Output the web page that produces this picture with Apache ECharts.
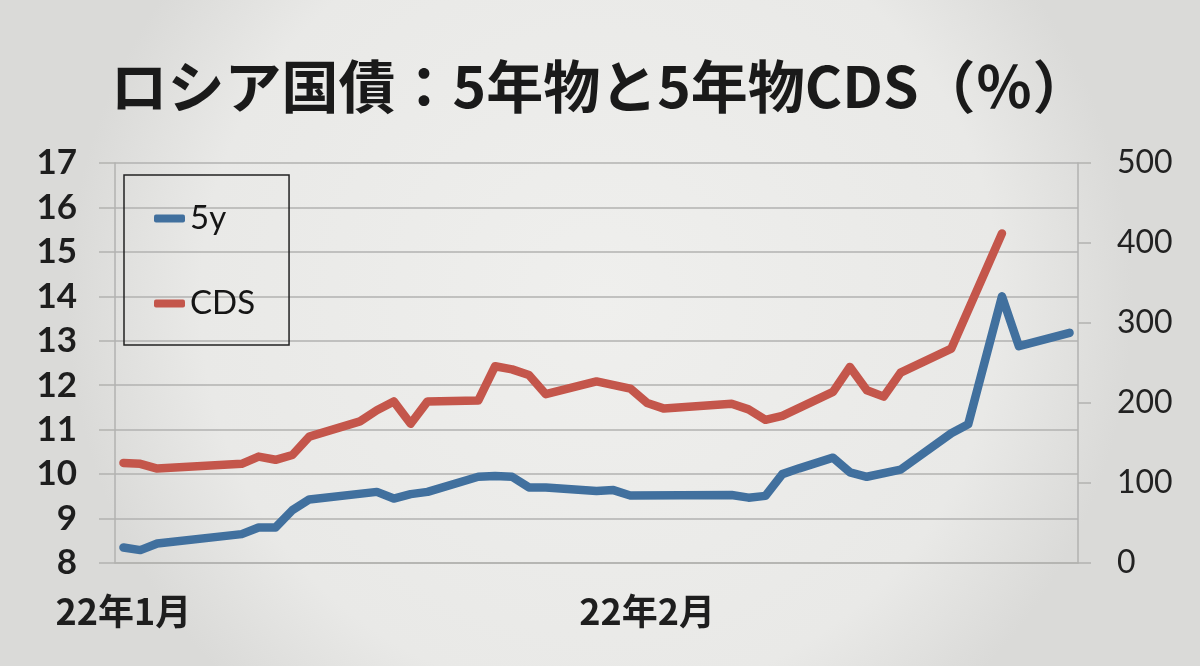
<!DOCTYPE html>
<html>
<head>
<meta charset="utf-8">
<script src="https://cdn.jsdelivr.net/npm/echarts@6/dist/echarts.min.js"></script>
<style>
html,body{margin:0;padding:0;width:1200px;height:666px;overflow:hidden;}
#chart{width:1200px;height:666px;}
</style>
</head>
<body>
<div id="chart"></div>
<script>
const titleText = 'ロシア国債：5年物と5年物CDS（％）';
const days = ['1/1','1/2','1/3','1/4','1/5','1/6','1/7','1/8','1/9','1/10','1/11','1/12','1/13','1/14','1/15','1/16','1/17','1/18','1/19','1/20','1/21','1/22','1/23','1/24','1/25','1/26','1/27','1/28','1/29','1/30','1/31',
  '2/1','2/2','2/3','2/4','2/5','2/6','2/7','2/8','2/9','2/10','2/11','2/12','2/13','2/14','2/15','2/16','2/17','2/18','2/19','2/20','2/21','2/22','2/23','2/24','2/25','2/26'];
const monthLabels = {'1/1':'22年1月','2/1':'22年2月'};
const seriesNames = ['5y','CDS'];
const yield5y = [8.35,8.29,8.44,null,null,null,null,8.65,8.80,8.80,9.19,9.43,null,null,null,9.60,9.45,9.55,9.60,null,null,9.94,9.96,9.94,9.70,9.70,null,null,9.62,9.64,9.52,
  null,null,null,null,null,9.53,9.47,9.51,10.00,10.13,null,10.37,10.04,9.94,null,10.10,null,null,10.92,11.12,null,14.00,12.88,null,null,13.18];
const cds5y = [125,124,118,null,null,null,null,124,133,129,135,158,null,null,177,191,202,174,202,null,null,203,246,242,235,211,null,null,227,null,218,
  200,193,null,null,null,199,192,179,184,null,null,214,245,216,208,238,null,null,268,null,null,412,null,null,null,null];
const leftTicks = {min:8, max:17, interval:1};
const rightTicks = {min:0, max:500, interval:100};

const chart = echarts.init(document.getElementById('chart'));
const gridColor = '#b2b2b0';
const isMonth = (i, v) => Object.prototype.hasOwnProperty.call(monthLabels, v);
chart.setOption({
  backgroundColor: {
    type: 'radial', x: 0.5, y: 0.45, r: 0.8,
    colorStops: [{offset:0, color:'#efefed'},{offset:0.75, color:'#e9e9e7'},{offset:1, color:'#dadad8'}]
  },
  animation: false,
  title: {
    text: titleText, left: 'center', top: 53,
    textStyle: {fontFamily: 'Noto Sans CJK JP', fontWeight: 'bold', fontSize: 57, color: '#1a1a1a'}
  },
  legend: {
    data: seriesNames, orient: 'vertical', left: 124, top: 175,
    padding: [27, 34, 25, 30], itemGap: 52,
    borderColor: '#222', borderWidth: 1.5,
    icon: 'roundRect', itemWidth: 31, itemHeight: 8,
    textStyle: {fontFamily: 'Lato', fontSize: 33, color: '#151515'}
  },
  grid: {left: 115, right: 122, top: 163, bottom: 103, outerBoundsMode: 'none'},
  xAxis: {
    type: 'category', data: days, boundaryGap: true,
    axisLine: {lineStyle: {color: gridColor, width: 1.5}},
    axisTick: {interval: isMonth, length: 11, lineStyle: {color: gridColor, width: 1.5}},
    axisLabel: {interval: isMonth, formatter: v => monthLabels[v] || '', margin: 30,
      fontFamily: 'Noto Sans CJK JP', fontWeight: 'bold', fontSize: 36, color: '#1e1e1e'},
    splitLine: {show: false}
  },
  yAxis: [{
    type: 'value', position: 'left', min: leftTicks.min, max: leftTicks.max, interval: leftTicks.interval,
    axisLine: {show: true, lineStyle: {color: gridColor, width: 1.5}},
    axisTick: {show: true, length: 16, lineStyle: {color: gridColor, width: 1.5}},
    splitLine: {show: true, lineStyle: {color: gridColor, width: 1.5}},
    axisLabel: {margin: 38, fontFamily: 'Lato', fontWeight: 'bold', fontSize: 35, color: '#1e1e1e'}
  },{
    type: 'value', position: 'right', min: rightTicks.min, max: rightTicks.max, interval: rightTicks.interval,
    axisLine: {show: true, lineStyle: {color: gridColor, width: 1.5}},
    axisTick: {show: true, length: 13, lineStyle: {color: gridColor, width: 1.5}},
    splitLine: {show: false},
    axisLabel: {margin: 39, fontFamily: 'Lato', fontSize: 32, color: '#222'}
  }],
  series: [{
    name: seriesNames[0], type: 'line', yAxisIndex: 0, data: yield5y,
    showSymbol: false, connectNulls: true, color: '#41709e',
    lineStyle: {width: 8.5, color: '#41709e', cap: 'round', join: 'round'}
  },{
    name: seriesNames[1], type: 'line', yAxisIndex: 1, data: cds5y,
    showSymbol: false, connectNulls: true, color: '#c4564b',
    lineStyle: {width: 8.5, color: '#c4564b', cap: 'round', join: 'round'}
  }]
});
</script>
</body>
</html>
